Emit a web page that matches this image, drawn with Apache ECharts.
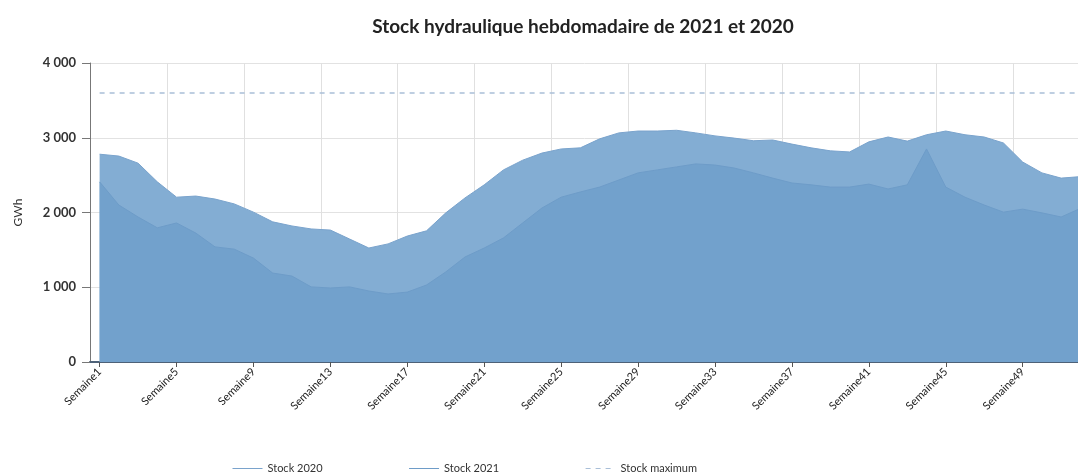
<!DOCTYPE html>
<html>
<head>
<meta charset="utf-8">
<script src="https://cdn.jsdelivr.net/npm/echarts@6/dist/echarts.min.js"></script>
<style>html,body{margin:0;padding:0;background:#fff}#c{width:1078px;height:476px}</style>
</head>
<body>
<div id="c"></div>
<script>
const weeks = [];
for (let i = 1; i <= 52; i++) weeks.push('Semaine' + i);

const stock2020 = [2780, 2755, 2660, 2410, 2205, 2220, 2180, 2115, 2005, 1875, 1820, 1780,
  1765, 1645, 1525, 1580, 1685, 1755, 1995, 2195, 2370, 2570, 2700, 2795, 2850, 2865,
  2985, 3065, 3090, 3090, 3100, 3065, 3025, 2995, 2960, 2970, 2915, 2865, 2825, 2810,
  2945, 3010, 2955, 3040, 3090, 3040, 3010, 2930, 2675, 2530, 2460, 2480];

const stock2021 = [2410, 2100, 1940, 1795, 1860, 1725, 1540, 1510, 1390, 1190, 1150, 1005,
  990, 1005, 950, 910, 935, 1030, 1205, 1405, 1525, 1660, 1860, 2060, 2205, 2275,
  2340, 2435, 2530, 2570, 2610, 2650, 2635, 2595, 2530, 2460, 2395, 2370, 2340, 2340,
  2380, 2315, 2370, 2850, 2340, 2205, 2100, 2005, 2045, 1995, 1940, 2055];

const stockMax = weeks.map(() => 3600);

const yTicks = [0, 1000, 2000, 3000, 4000];

const FONT = 'Lato, "Open Sans", sans-serif';
const chart = echarts.init(document.getElementById('c'), null, {renderer: 'canvas'});
chart.setOption({
  animation: false,
  backgroundColor: '#ffffff',
  title: {
    text: 'Stock hydraulique hebdomadaire de 2021 et 2020',
    left: 578, top: 12, textAlign: 'center',
    textStyle: {fontFamily: FONT, fontSize: 19, fontWeight: 'bold', color: '#222'}
  },
  legend: {
    left: 227, top: 458,
    itemWidth: 30, itemHeight: 10, itemGap: 86,
    itemStyle: {opacity: 0},
    lineStyle: {width: 1},
    textStyle: {fontFamily: FONT, fontSize: 11, color: '#333'},
    data: ['Stock 2020', 'Stock 2021', 'Stock maximum']
  },
  grid: {left: 90, top: 63, width: 1000, height: 299, containLabel: false, outerBoundsMode: 'none'},
  xAxis: {
    type: 'category',
    data: weeks,
    boundaryGap: true,
    axisLine: {lineStyle: {color: '#4d6178', width: 2}},
    axisTick: {show: true, interval: 3, alignWithLabel: true, length: 5, lineStyle: {color: '#555'}},
    axisLabel: {interval: 3, rotate: 45, margin: 8, fontFamily: FONT, fontSize: 11, color: '#222'},
    splitLine: {show: true, interval: 3, lineStyle: {color: '#e0e0e0', width: 1}}
  },
  yAxis: {
    type: 'value',
    min: 0, max: 4000, interval: 1000,
    name: 'GWh', nameLocation: 'middle', nameGap: 66, nameRotate: 90,
    nameTextStyle: {fontFamily: FONT, fontSize: 12, color: '#333'},
    axisLine: {show: true, lineStyle: {color: '#777'}},
    axisTick: {show: true, length: 8, lineStyle: {color: '#777'}},
    axisLabel: {
      margin: 14, fontFamily: FONT, fontSize: 13, fontWeight: 'bold', color: '#333',
      formatter: v => yTicks.includes(v) ? String(v).replace(/\B(?=(\d{3})+(?!\d))/g, ' ') : ''
    },
    splitLine: {show: true, lineStyle: {color: '#e2e2e2'}}
  },
  series: [
    {
      name: 'Stock 2020', type: 'line', data: stock2020, symbol: 'none',
      itemStyle: {color: '#8fb0d5'},
      lineStyle: {color: '#7aa3cc', width: 1},
      areaStyle: {color: '#83add3', opacity: 1}
    },
    {
      name: 'Stock 2021', type: 'line', data: stock2021, symbol: 'none',
      itemStyle: {color: '#8fb0d5'},
      lineStyle: {color: '#6e9cc8', width: 1},
      areaStyle: {color: '#72a1cc', opacity: 1}
    },
    {
      name: 'Stock maximum', type: 'line', data: stockMax, symbol: 'none',
      itemStyle: {color: '#a9bfd8'},
      lineStyle: {color: '#a9bfd8', width: 1.5, type: [5, 5]}
    }
  ]
});
</script>
</body>
</html>
